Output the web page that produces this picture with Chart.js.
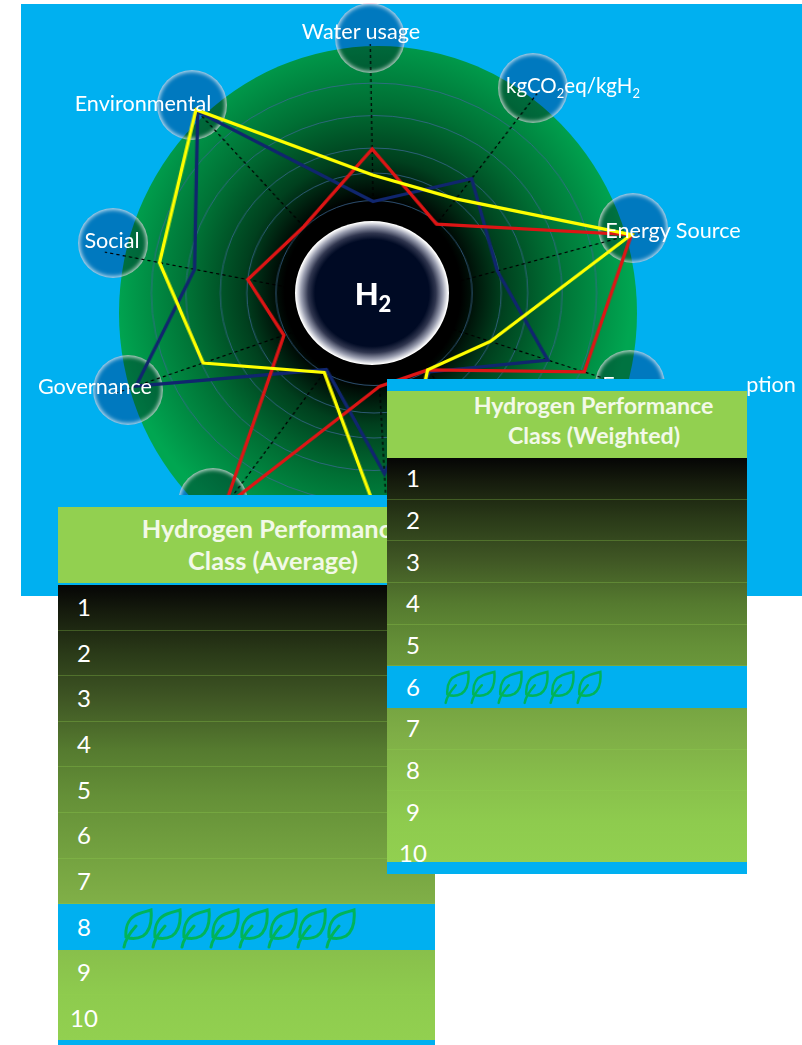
<!DOCTYPE html>
<html>
<head>
<meta charset="utf-8">
<title>Hydrogen Performance Class</title>
<script src="https://cdn.jsdelivr.net/npm/chart.js@4/dist/chart.umd.min.js"></script>
<style>
  html, body { margin: 0; padding: 0; background: #fff; }
  body { position: relative; width: 802px; height: 1045px; overflow: hidden; font-family: Lato, "Open Sans", sans-serif; color: #fff; }
  .abs { position: absolute; }
  #panel { left: 21px; top: 4px; width: 781px; height: 592px; background: #00b0f0; }
  #disc { left: 119px; top: 46px; width: 518px; height: 534px; border-radius: 50%;
    background: radial-gradient(ellipse 50% 50% at 49% 46%, #000 0, #000 34%, #00401e 50%, #006f34 70%, #00a651 100%); }
  canvas { position: absolute; transform: scaleX(1.06); }
  .bubbleFill { width: 70px; height: 70px; border-radius: 50%; background: rgb(255, 176, 203); mix-blend-mode: multiply; }
  .bubbleRim { width: 70px; height: 70px; border-radius: 50%; box-shadow: inset 0 0 4px 1.5px rgba(255, 255, 255, 0.8); }
  .nodeLabel { font-size: 21.6px; white-space: nowrap; transform: translate(-50%, -50%); line-height: 1; }
  .nodeLabel sub { font-size: 13px; line-height: 0; }
  #hub { left: 295px; top: 221px; width: 154px; height: 144px; border-radius: 50%;
    background: radial-gradient(ellipse 50% 50% at 50% 50%, #000a24 0, #000a24 74%, #30364f 83%, #9a9eb0 92%, #fff 99%); }
  #hubLabel { left: 373px; top: 293px; font-size: 31px; font-weight: 900; transform: translate(-50%, -50%); line-height: 1; }
  #hubLabel sub { font-size: 22px; line-height: 0; }
  .classTable { background: #00b0f0; }
  .classHead { position: absolute; left: 0; right: 0; background: #92d050; text-align: center; font-weight: 700; color: #f2f9e8; }
  .classHead div { position: absolute; white-space: nowrap; transform: translate(-50%, -50%); line-height: 1; }
  .classBody { position: absolute; left: 0; right: 0; }
  .classRow { position: absolute; left: 0; right: 0; border-bottom: 1px solid rgba(146, 208, 80, 0.3); box-sizing: border-box; }
  .classRow.active { background: #00b0f0; border-bottom: 0; }
  .classNum { position: absolute; top: 50%; font-size: 24px; transform: translate(-50%, -50%); line-height: 1; }
  .leaf { position: absolute; fill: none; stroke: #00b45a; stroke-width: 3; stroke-linecap: round; }
</style>
</head>
<body>
<div id="panel" class="abs"></div>
<div id="disc" class="abs"></div>
<canvas id="ringChart" width="560" height="560" style="left:94px;top:13px"></canvas>
<div id="bubbles"></div>
<canvas id="radarChart" width="560" height="560" style="left:95px;top:24px"></canvas>
<div id="hub" class="abs"></div>
<div id="hubLabel" class="abs">H<sub>2</sub></div>
<div id="nodeLabels"></div>
<div id="tableAverage"></div>
<div id="tableWeighted"></div>

<script>
  // Radar categories, clockwise from the top. The empty ones are hidden under the tables
  const categories = ["Water usage", "kgCO2eq/kgH2", "Energy Source", "Energy consumption", "", "", "", "Governance", "Social", "Environmental"];

  // The spokes in the picture are not evenly spread, degrees clockwise from the top
  const axisAngles = [359, 36, 74, 109, 143, 177, 215, 250, 281.5, 319];

  // Series values
  const blueValues = [41, 62, 48, 69, 34, 68, 32, 96, 69.5, 102];
  const redValues = [62, 39.5, 100.6, 83.5, 33, 33, 99, 36.6, 49, 41];
  const yellowValues = [51.6, 52, 100.6, 46, 33, 96, 33.4, 69, 83, 103];

  // Position of the concentric rings on the value axis
  const ringTicks = [0, 37, 48, 58, 71, 84];

  const classRows = ["1", "2", "3", "4", "5", "6", "7", "8", "9", "10"];
  const averageClass = 8;
  const weightedClass = 6;

  // Bubbles behind the axis ends
  const bubbleSpots = [[370, 38], [533, 88], [633, 228], [630, 385], [528, 525], [380, 560], [213, 503], [128, 390], [113, 243], [192, 105]];

  // Text on the bubbles
  const nodeLabels = [
    { html: "Water usage", x: 361, y: 32 },
    { html: "kgCO<sub>2</sub>eq/kgH<sub>2</sub>", x: 573, y: 85, size: 20.5 },
    { html: "Energy Source", x: 673, y: 231 },
    { html: "Energy consumption", x: 699, y: 385 },
    { html: "Governance", x: 95, y: 387 },
    { html: "Social", x: 112, y: 241 },
    { html: "Environmental", x: 143, y: 104 },
  ];

  const rowGradient = "linear-gradient(180deg, #050505 0%, #161c0d 6%, #2a3a18 15%, #3f5624 25%, #557a2f 36%, #648f37 46%, #72a03f 58%, #7ead46 68%, #88bf4b 80%, #8ecb4e 90%, #92d050 100%)";

  function radarOptions(padding, scaleExtra) {
    return {
      responsive: false,
      animation: false,
      layout: { padding: padding },
      plugins: { legend: { display: false }, tooltip: { enabled: false } },
      scales: {
        r: Object.assign(
          {
            min: 0,
            ticks: { display: false },
            pointLabels: { display: false },
          },
          scaleExtra
        ),
      },
    };
  }

  // Rings
  new Chart(document.getElementById("ringChart").getContext("2d"), {
    type: "radar",
    data: { labels: categories, datasets: [] },
    options: radarOptions(30, {
      max: 100,
      angleLines: { display: false },
      grid: { circular: true, color: "rgba(60, 105, 150, 0.75)", lineWidth: 1 },
      afterBuildTicks: function (axis) {
        axis.ticks = ringTicks.map(function (v) {
          return { value: v };
        });
      },
    }),
  });

  // Spokes and series, first dataset ends up on top
  new Chart(document.getElementById("radarChart").getContext("2d"), {
    type: "radar",
    data: {
      labels: categories,
      datasets: [
        { label: "Yellow", data: yellowValues, borderColor: "#ffff00" },
        { label: "Red", data: redValues, borderColor: "#dd1515" },
        { label: "Blue", data: blueValues, borderColor: "#10266e" },
      ].map(function (ds) {
        return Object.assign(ds, { borderWidth: 3.2, fill: false, pointRadius: 0, tension: 0, clip: false, borderJoinStyle: "miter" });
      }),
    },
    options: radarOptions(20, {
      max: 104,
      grid: { display: false },
      angleLines: { color: "#000", lineWidth: 1.2, borderDash: [3, 3] },
      beforeUpdate: function (axis) {
        axis.getIndexAngle = function (index) {
          return (axisAngles[index] * Math.PI) / 180;
        };
      },
    }),
  });

  // Bubbles
  const bubbleBox = document.getElementById("bubbles");
  bubbleSpots.forEach(function (spot) {
    ["bubbleFill", "bubbleRim"].forEach(function (cls) {
      const el = document.createElement("div");
      el.className = "abs " + cls;
      el.style.left = spot[0] - 35 + "px";
      el.style.top = spot[1] - 35 + "px";
      bubbleBox.appendChild(el);
    });
  });

  const labelBox = document.getElementById("nodeLabels");
  nodeLabels.forEach(function (n) {
    const el = document.createElement("div");
    el.className = "abs nodeLabel";
    el.innerHTML = n.html;
    el.style.left = n.x + "px";
    el.style.top = n.y + "px";
    if (n.size) el.style.fontSize = n.size + "px";
    labelBox.appendChild(el);
  });

  const leafPath = "M4 30 C3 18 8 10 16 7 C21 5 26 4 29 3 C30 14 28 24 21 29 C15 32 9 32 4 30 M2 40 C3 34 6 28 14 19";

  function buildTable(id, cfg) {
    const box = document.getElementById(id);
    box.className = "abs classTable";
    box.style.cssText = "left:" + cfg.left + "px;top:" + cfg.top + "px;width:" + cfg.width + "px;height:" + cfg.height + "px";

    const head = document.createElement("div");
    head.className = "classHead";
    head.style.top = cfg.headTop + "px";
    head.style.height = cfg.headHeight + "px";
    head.style.fontSize = cfg.headFont + "px";
    cfg.headLines.forEach(function (line) {
      const t = document.createElement("div");
      t.textContent = line.text;
      t.style.left = line.x + "px";
      t.style.top = line.y + "px";
      head.appendChild(t);
    });
    box.appendChild(head);

    const body = document.createElement("div");
    body.className = "classBody";
    body.style.top = cfg.bodyTop + "px";
    body.style.height = cfg.bodyHeight + "px";
    body.style.background = rowGradient;
    classRows.forEach(function (label, i) {
      const row = document.createElement("div");
      row.className = "classRow" + (i + 1 === cfg.value ? " active" : "");
      row.style.top = i * cfg.rowHeight + "px";
      row.style.height = (i === classRows.length - 1 ? cfg.bodyHeight - i * cfg.rowHeight : cfg.rowHeight) + "px";
      if (i === classRows.length - 1) row.style.borderBottom = "0";

      const num = document.createElement("div");
      num.className = "classNum";
      num.textContent = label;
      num.style.left = cfg.numX + "px";
      if (cfg.lastNumTop && i === classRows.length - 1) num.style.top = cfg.lastNumTop + "px";
      row.appendChild(num);

      if (i + 1 === cfg.value) {
        for (let k = 0; k < cfg.value; k++) {
          const svg = document.createElementNS("http://www.w3.org/2000/svg", "svg");
          svg.setAttribute("viewBox", "0 0 31 41");
          svg.setAttribute("class", "leaf");
          svg.style.left = cfg.leafX + k * cfg.leafStep + "px";
          svg.style.top = cfg.leafTop + "px";
          svg.style.width = cfg.leafW + "px";
          svg.style.height = cfg.leafH + "px";
          const p = document.createElementNS("http://www.w3.org/2000/svg", "path");
          p.setAttribute("d", leafPath);
          svg.appendChild(p);
          row.appendChild(svg);
        }
      }
      body.appendChild(row);
    });
    box.appendChild(body);
  }

  buildTable("tableAverage", {
    left: 58, top: 495, width: 377, height: 550,
    headTop: 12, headHeight: 76, headFont: 25.4,
    headLines: [
      { text: "Hydrogen Performance", x: 215, y: 22 },
      { text: "Class (Average)", x: 215, y: 54 },
    ],
    bodyTop: 90, bodyHeight: 455, rowHeight: 45.6,
    numX: 26, value: averageClass,
    leafX: 64, leafStep: 29, leafTop: 2, leafW: 31, leafH: 43,
  });

  buildTable("tableWeighted", {
    left: 387, top: 379, width: 360, height: 495,
    headTop: 12, headHeight: 67, headFont: 23.2,
    headLines: [
      { text: "Hydrogen Performance", x: 206.5, y: 15 },
      { text: "Class (Weighted)", x: 207, y: 45 },
    ],
    bodyTop: 79, bodyHeight: 404, rowHeight: 41.65,
    numX: 26, lastNumTop: 20, value: weightedClass,
    leafX: 57, leafStep: 26.3, leafTop: 2, leafW: 26, leafH: 37,
  });
</script>
</body>
</html>
